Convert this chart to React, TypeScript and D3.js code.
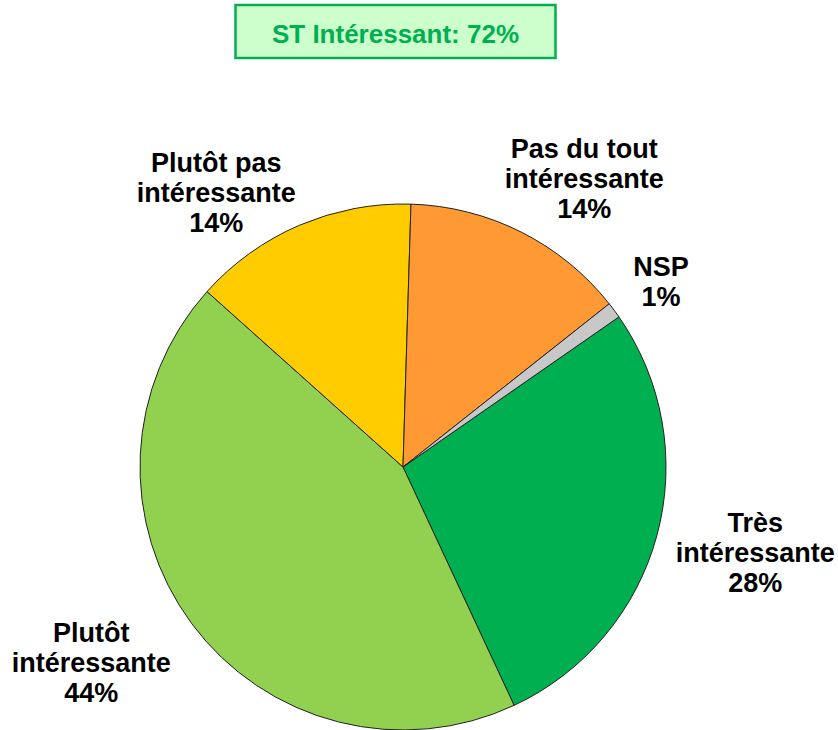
import React from "react";
import * as d3 from "d3";

const categories = [
  "Très intéressante",
  "Plutôt intéressante",
  "Plutôt pas intéressante",
  "Pas du tout intéressante",
  "NSP",
];
const values = [28, 44, 14, 14, 1];
const labelLines = [
  ["Très", "intéressante"],
  ["Plutôt", "intéressante"],
  ["Plutôt pas", "intéressante"],
  ["Pas du tout", "intéressante"],
  ["NSP"],
];
const colors = ["#00B050", "#92D050", "#FFCC00", "#FF9933", "#C8C8C8"];
const titleText = "ST Intéressant: 72%";

// layout tweaks for label placement (Excel-like)
const labelNudge: [number, number][] = [
  [10, 2],
  [-27, 5],
  [-47, 19],
  [22, -3],
  [15, -4],
];

const W = 838;
const H = 730;
const CX = 403;
const CY = 467;
const R = 263;
const FONT = "'Liberation Sans', Arial, Helvetica, sans-serif";
const FS = 27;
const LH = 30;

function measure(text: string): number {
  const c = document.createElement("canvas").getContext("2d");
  if (!c) return text.length * 14;
  c.font = `bold ${FS}px ${FONT}`;
  return c.measureText(text).width;
}

export default function App() {
  const data = categories.map((c, i) => ({ c, v: values[i], i }));
  const start = (55.2 * Math.PI) / 180;
  const pie = d3
    .pie<any>()
    .sort(null)
    .value((d) => d.v)
    .startAngle(start)
    .endAngle(start + 2 * Math.PI);
  const arcs = pie(data);
  const arc = d3.arc<any>().innerRadius(0).outerRadius(R);

  return (
    <svg
      width={W}
      height={H}
      style={{ position: "absolute", left: 0, top: 0 }}
      fontFamily={FONT}
    >
      <rect x={0} y={0} width={W} height={H} fill="#ffffff" />
      <rect
        x={235.5}
        y={5}
        width={320}
        height={53}
        fill="#CCFFCC"
        stroke="#00B050"
        strokeWidth={2.5}
      />
      <text
        x={395.5}
        y={43}
        textAnchor="middle"
        fontWeight="bold"
        fontSize={26}
        fill="#00B050"
      >
        {titleText}
      </text>
      <g transform={`translate(${CX},${CY})`}>
        {arcs.map((a, i) => (
          <path
            key={i}
            d={arc(a) as string}
            fill={colors[i]}
            stroke="#222"
            strokeWidth={1}
          />
        ))}
      </g>
      {arcs.map((a, i) => {
        const mid = (a.startAngle + a.endAngle) / 2;
        const ux = Math.sin(mid);
        const uy = -Math.cos(mid);
        const lines = [...labelLines[i], `${values[i]}%`];
        const w = Math.max(...lines.map(measure));
        const h = lines.length * LH;
        const rr = R + 12;
        const bx = CX + ux * rr + (ux * w) / 2 + labelNudge[i][0];
        const by = CY + uy * rr + (uy * h) / 2 + labelNudge[i][1];
        const firstBase = by - ((lines.length - 1) * LH) / 2 + 9.7;
        return (
          <text
            key={i}
            x={bx}
            y={firstBase}
            textAnchor="middle"
            fontWeight="bold"
            fontSize={FS}
            fill="#000"
          >
            {lines.map((l, j) => (
              <tspan key={j} x={bx} y={firstBase + j * LH}>
                {l}
              </tspan>
            ))}
          </text>
        );
      })}
    </svg>
  );
}
